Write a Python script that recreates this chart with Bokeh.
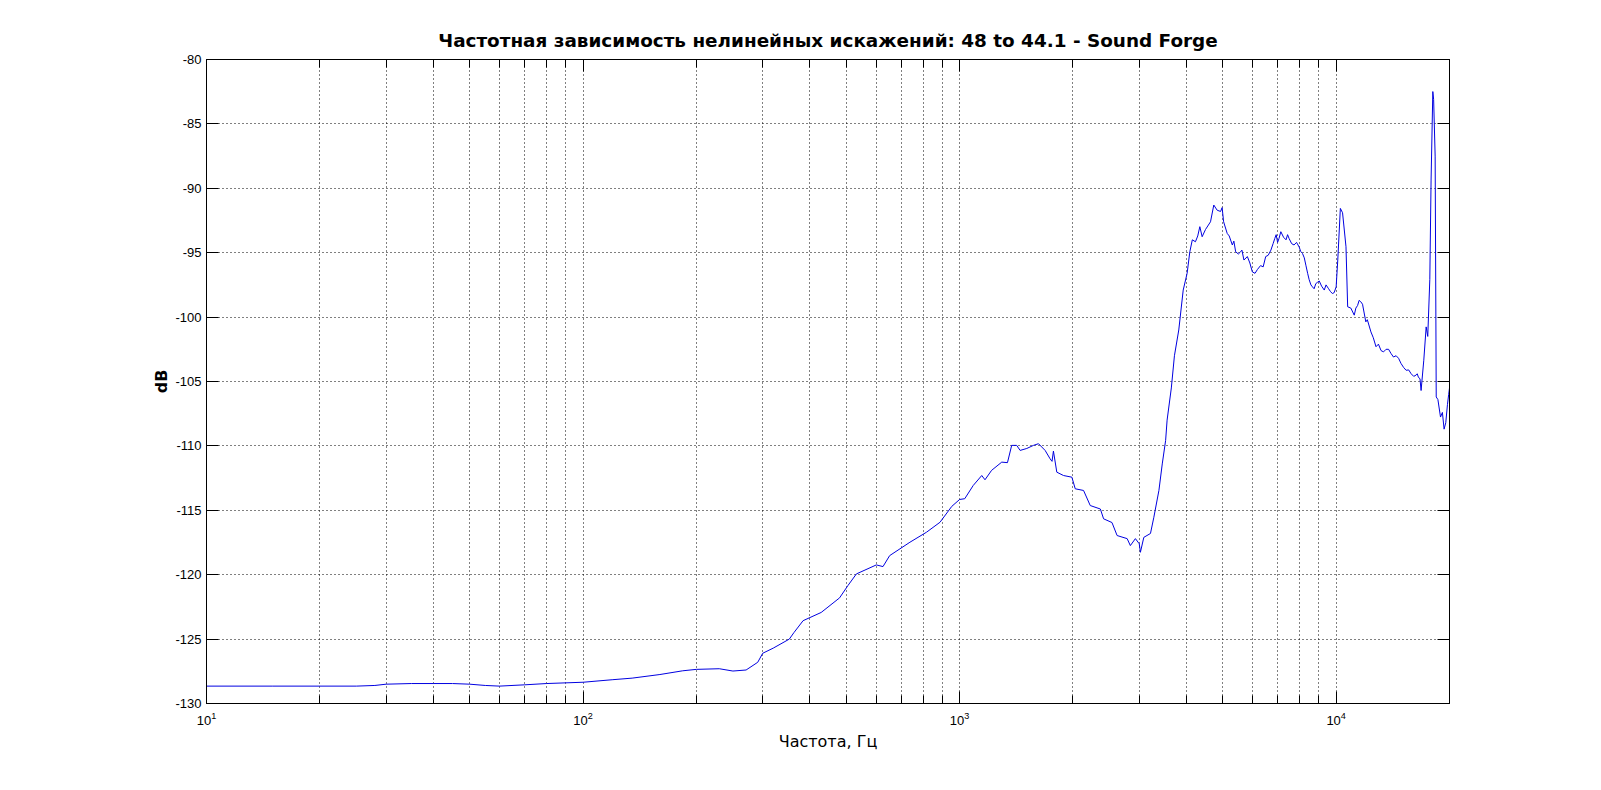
from bokeh.plotting import figure
from bokeh.models import (ColumnDataSource, FixedTicker, LogAxis, LinearAxis,
                          Range1d, CustomJSTickFormatter)
from bokeh.embed import file_html
from bokeh.resources import INLINE

title_text = "Частотная зависимость нелинейных искажений: 48 to 44.1 - Sound Forge"
x_label = "Частота, Гц"
y_label = "dB"

freq_hz = [10, 15, 20, 25, 28, 30, 35, 40, 45, 50, 55, 60, 70, 80, 100, 120, 135, 160,
           184, 200, 230, 250, 271, 291, 300, 320, 353, 363, 384, 429, 480, 505, 532,
           601, 626, 652, 738, 817, 887, 953, 1000, 1032, 1087, 1145, 1168, 1216, 1294,
           1340, 1375, 1418, 1448, 1508, 1571, 1620, 1687, 1739, 1760, 1775, 1812, 1888,
           1987, 2028, 2134, 2223, 2365, 2412, 2539, 2620, 2786, 2841, 2930, 3000, 3021,
           3085, 3213, 3280, 3383, 3453, 3525, 3557, 3650, 3720, 3820, 3925, 4020, 4087,
           4150, 4230, 4290, 4345, 4407, 4498, 4638, 4732, 4830, 4932, 4980, 5025, 5136,
           5200, 5300, 5350, 5410, 5500, 5575, 5620, 5690, 5810, 5900, 5990, 6090, 6180,
           6300, 6400, 6500, 6600, 6710, 6800, 6870, 6930, 6990, 7050, 7130, 7250, 7360,
           7430, 7500, 7620, 7730, 7850, 7980, 8050, 8140, 8230, 8310, 8400, 8480, 8570,
           8650, 8740, 8830, 8920, 9020, 9150, 9300, 9400, 9550, 9650, 9770, 9880, 10000,
           10100, 10260, 10400, 10620, 10730, 10940, 11170, 11280, 11400, 11510, 11620,
           11750, 11990, 12100, 12370, 12550, 12760, 12950, 13160, 13360, 13570, 13780,
           13990, 14200, 14430, 14650, 14870, 15100, 15340, 15580, 15820, 16070, 16310,
           16420, 16530, 16700, 16810, 17090, 17340, 17510, 17730, 17870, 18060, 18150,
           18320, 18440, 18630, 18930, 19150, 19350, 19550, 19750, 19900, 20000]

level_db = [-128.65, -128.65, -128.65, -128.65, -128.6, -128.5, -128.45, -128.45, -128.45,
            -128.5, -128.6, -128.65, -128.55, -128.45, -128.35, -128.15, -128.03, -127.75,
            -127.46, -127.35, -127.3, -127.48, -127.4, -126.8, -126.1, -125.7, -125.0,
            -124.5, -123.57, -122.93, -121.8, -120.85, -119.94, -119.24, -119.37, -118.52,
            -117.48, -116.7, -115.93, -114.7, -114.16, -114.1, -113.07, -112.3, -112.63,
            -111.9, -111.26, -111.3, -109.96, -109.96, -110.35, -110.2, -109.96, -109.83,
            -110.35, -111.0, -111.2, -110.4, -112.04, -112.3, -112.43, -113.33, -113.46,
            -114.63, -114.9, -115.66, -115.95, -116.96, -117.2, -117.74, -117.2, -117.6,
            -118.26, -117.1, -116.8, -115.54, -113.46, -111.4, -109.57, -108.0, -105.5,
            -103.0, -101.0, -97.9, -96.6, -94.93, -94.0, -94.15, -93.7, -92.98, -93.76,
            -93.2, -92.6, -91.3, -91.7, -91.8, -91.5, -92.6, -93.5, -93.7, -94.4, -94.1,
            -94.93, -95.1, -94.93, -94.8, -95.57, -95.3, -95.8, -96.49, -96.6, -96.3,
            -96.0, -96.1, -95.3, -95.2, -94.8, -94.3, -93.9, -93.6, -94.2, -93.9, -93.37,
            -93.8, -94.0, -93.6, -93.9, -94.3, -94.4, -94.2, -94.57, -94.9, -95.06, -95.4,
            -95.97, -96.6, -97.1, -97.5, -97.65, -97.8, -97.4, -97.3, -97.2, -97.6, -97.9,
            -97.5, -97.8, -98.0, -98.17, -98.1, -97.65, -95.57, -91.56, -91.9, -94.54,
            -99.2, -99.3, -99.85, -99.3, -99.1, -98.7, -98.8, -99.0, -100.37, -100.2,
            -101.15, -101.6, -102.3, -102.1, -102.6, -102.7, -102.5, -102.5, -102.83,
            -103.1, -103.0, -103.2, -103.6, -103.9, -104.13, -104.1, -104.4, -104.6,
            -104.5, -104.4, -104.65, -104.8, -105.7, -103.35, -100.76, -101.5, -97.1,
            -89.36, -82.49, -83.1, -87.5, -106.2, -106.4, -107.76, -107.4, -108.7, -108.2,
            -106.8, -106.0, -105.5]

x_major_ticks = [10, 100, 1000, 10000]
x_minor_ticks = [20, 30, 40, 50, 60, 70, 80, 90,
                 200, 300, 400, 500, 600, 700, 800, 900,
                 2000, 3000, 4000, 5000, 6000, 7000, 8000, 9000,
                 20000]
y_ticks = [-130, -125, -120, -115, -110, -105, -100, -95, -90, -85, -80]

FONT = "Liberation Sans"
LFONT = "DejaVu Sans"

src = ColumnDataSource(data=dict(f=freq_hz, db=level_db))

p = figure(width=1585, height=771, x_axis_type="log",
           x_range=Range1d(10, 20000), y_range=Range1d(-130, -80),
           output_backend="svg", toolbar_location=None,
           min_border_left=206, min_border_right=136,
           min_border_top=59, min_border_bottom=68,
           title=title_text)

p.background_fill_color = "white"
p.border_fill_color = "white"
p.outline_line_color = "black"
p.outline_line_width = 1

p.title.align = "center"
p.title.text_font = LFONT
p.title.text_font_size = "18.4px"
p.title.text_font_style = "bold"
p.title.text_color = "black"
p.title.standoff = 17

p.line(x="f", y="db", source=src, line_color="#0000e0", line_width=1)

xticker = FixedTicker(ticks=x_major_ticks, minor_ticks=x_minor_ticks)
yticker = FixedTicker(ticks=y_ticks)

xa = p.xaxis[0]
xa.ticker = xticker
xa.axis_label = x_label
xa.axis_label_text_font = LFONT
xa.axis_label_text_font_size = "16px"
xa.axis_label_text_font_style = "normal"
xa.axis_label_text_color = "black"
xa.axis_label_standoff = 4
xa.major_label_text_font = FONT
xa.major_label_text_font_size = "13px"
xa.major_label_text_color = "black"
xa.major_label_standoff = 8
xa.major_tick_in = 12
xa.major_tick_out = 0
xa.minor_tick_in = 8
xa.minor_tick_out = 0
xa.axis_line_color = "black"
xa.major_tick_line_color = "black"
xa.minor_tick_line_color = "black"

ya = p.yaxis[0]
ya.ticker = yticker
ya.major_label_overrides = {v: str(v) for v in y_ticks}
ya.axis_label = y_label
ya.axis_label_text_font = LFONT
ya.axis_label_text_font_size = "16px"
ya.axis_label_text_font_style = "bold"
ya.axis_label_text_color = "black"
ya.axis_label_standoff = 1
ya.major_label_text_font = FONT
ya.major_label_text_font_size = "13px"
ya.major_label_text_color = "black"
ya.major_label_standoff = 5
ya.major_tick_in = 12
ya.major_tick_out = 0
ya.minor_tick_line_color = None
ya.axis_line_color = "black"
ya.major_tick_line_color = "black"

blank = CustomJSTickFormatter(code="return ''")
top = LogAxis(ticker=xticker, formatter=blank, major_tick_in=12, major_tick_out=0,
              minor_tick_in=8, minor_tick_out=0, major_label_standoff=0,
              major_label_text_font_size="1px", axis_line_color="black")
p.add_layout(top, "above")
right = LinearAxis(ticker=yticker, formatter=blank, major_tick_in=12, major_tick_out=0,
                   minor_tick_line_color=None, major_label_standoff=0,
                   major_label_text_font_size="1px", axis_line_color="black")
p.add_layout(right, "right")

for g in (p.xgrid[0], p.ygrid[0]):
    g.grid_line_color = "black"
    g.grid_line_dash = "1 3"
    g.grid_line_width = 1
p.xgrid[0].ticker = xticker
p.ygrid[0].ticker = yticker
p.xgrid[0].minor_grid_line_color = "black"
p.xgrid[0].minor_grid_line_dash = "1 3"
p.xgrid[0].minor_grid_line_width = 1

open("out.html", "w").write(file_html(p, INLINE))
